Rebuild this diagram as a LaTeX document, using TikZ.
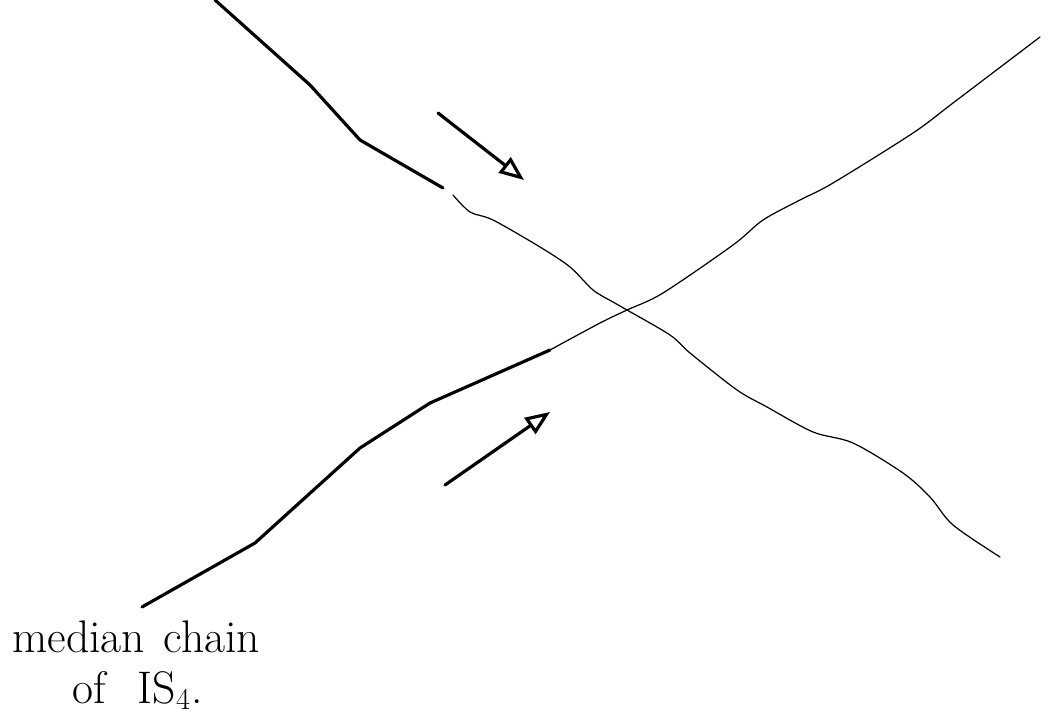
\documentclass[tikz,border=0pt]{standalone}
\usepackage{tikz}
\usetikzlibrary{arrows.meta}

\begin{document}
\begin{tikzpicture}[x=0.02cm, y=-0.02cm, line cap=round, line join=round,
  thickchain/.style={line width=1.8pt},
  thinchain/.style={line width=0.7pt},
  flow/.style={line width=1.8pt, -{Triangle[open, length=14pt, width=11pt, line width=1.8pt]}},
  caption/.style={anchor=base west, inner sep=0pt, font=\fontsize{26}{30}\selectfont}]
\useasboundingbox (0,0) rectangle (1050,719);
% heavy parts of the two chains
\draw[thickchain] (215,0) -- (310,85) -- (360,140) -- (443,188);
\draw[thickchain] (142,607) -- (255,543) -- (360,448) -- (430,403) -- (550,350);
% light continuations crossing each other
\draw[thinchain] plot[smooth, tension=0.5] coordinates {(453,195) (470,212) (493,220) (540,247) (570,267) (593,290) (613,302) (627,310) (670,335) (690,353) (737,390) (767,407) (813,432) (853,443) (903,473) (930,497) (953,525) (1000,557)};
\draw[thinchain] plot[smooth, tension=0.5] coordinates {(550,350) (600,323) (627,310) (663,293) (733,245) (763,220) (800,200) (833,183) (913,133) (953,103) (1040,37)};
% direction of motion
\coordinate (upA) at (438,113);
\coordinate (upB) at (524,180);
\coordinate (loA) at (445,485);
\coordinate (loB) at (550,412);
\draw[flow] (upA) -- (upB);
\draw[flow] (loA) -- (loB);
\node[caption] (chainlabel) at (12,652) {median\hspace{0.1em} chain};
\node[caption] (chainlabelb) at (72,703) {of\hspace{0.7em}IS$_4$.};
\end{tikzpicture}
\end{document}
